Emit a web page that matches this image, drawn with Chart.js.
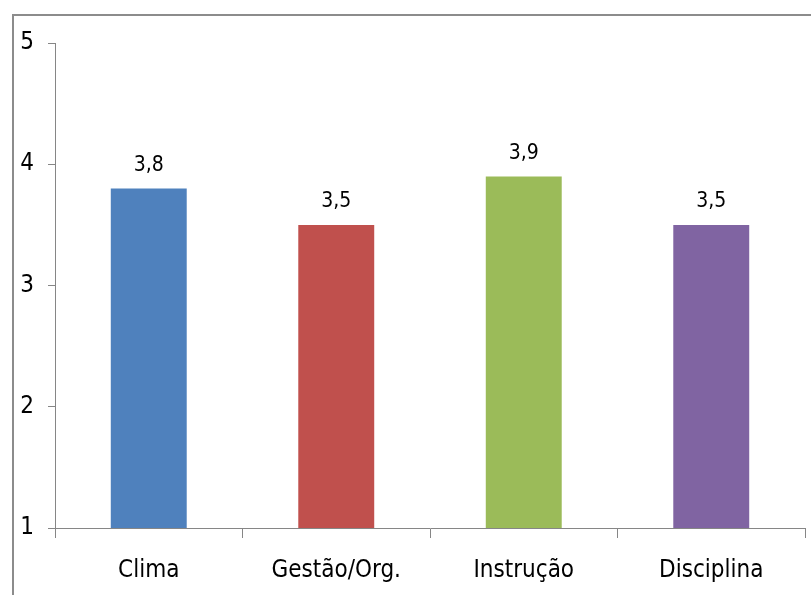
<!DOCTYPE html>
<html>
<head>
<meta charset="utf-8">
<script src="https://cdn.jsdelivr.net/npm/chart.js@4"></script>
<style>
  html, body { margin: 0; padding: 0; background: #fff; }
  #wrap { position: relative; width: 811px; height: 595px; overflow: hidden; }
  #frame { position: absolute; left: 12px; top: 14px; right: -10px; bottom: -10px;
           border-top: 2px solid #8c8c8c; border-left: 2px solid #8c8c8c; }
  canvas { position: absolute; left: 0; top: 0; }
</style>
</head>
<body>
<div id="wrap">
  <div id="frame"></div>
  <canvas id="chart" width="811" height="595"></canvas>
</div>
<script>
// ========== DATA ==========
const categories = ['Clima', 'Gestão/Org.', 'Instrução', 'Disciplina'];
const scores = [3.8, 3.5, 3.9, 3.5];
const barColors = ['#4F81BD', '#C0504D', '#9BBB59', '#8064A2'];
const yTicks = [1, 2, 3, 4, 5];

const FONT = '"Liberation Sans Narrow", "DejaVu Sans Condensed", "Noto Sans", sans-serif';

// ========== VALUE LABELS ==========
const valueLabels = {
    id: 'valueLabels',
    afterDatasetsDraw(chart) {
        const ctx = chart.ctx;
        const meta = chart.getDatasetMeta(0);
        ctx.save();
        ctx.font = '21px ' + FONT;
        ctx.fillStyle = '#000';
        ctx.textAlign = 'center';
        ctx.textBaseline = 'middle';
        meta.data.forEach((bar, i) => {
            const txt = scores[i].toFixed(1).replace('.', ',');
            ctx.fillText(txt, bar.x, bar.y - 23);
        });
        ctx.restore();
    }
};

// ========== CHART ==========
const ctx = document.getElementById('chart').getContext('2d');
new Chart(ctx, {
    type: 'bar',
    data: {
        labels: categories,
        datasets: [{
            data: scores,
            backgroundColor: barColors,
            borderWidth: 0,
            categoryPercentage: 1,
            barPercentage: 0.405
        }]
    },
    options: {
        responsive: false,
        animation: false,
        layout: { padding: { left: 0, top: 43, right: 6, bottom: 0 } },
        plugins: {
            legend: { display: false },
            tooltip: { enabled: false }
        },
        scales: {
            x: {
                grid: {
                    drawOnChartArea: false,
                    drawTicks: true,
                    tickLength: 10,
                    color: '#868686',
                    offset: true
                },
                border: { display: true, color: '#868686', width: 1 },
                ticks: {
                    color: '#000',
                    padding: 18,
                    font: { family: FONT, size: 24 }
                },
                afterFit(scale) { scale.height = 67; }
            },
            y: {
                min: 1,
                max: 5,
                grid: {
                    drawOnChartArea: false,
                    drawTicks: true,
                    tickLength: 7,
                    color: '#868686'
                },
                border: { display: true, color: '#868686', width: 1 },
                ticks: {
                    stepSize: 1,
                    color: '#000',
                    padding: 14,
                    font: { family: FONT, size: 24 },
                    callback: (v) => yTicks.includes(v) ? String(v) : ''
                },
                afterFit(scale) { scale.width = 55; }
            }
        }
    },
    plugins: [valueLabels]
});
</script>
</body>
</html>
